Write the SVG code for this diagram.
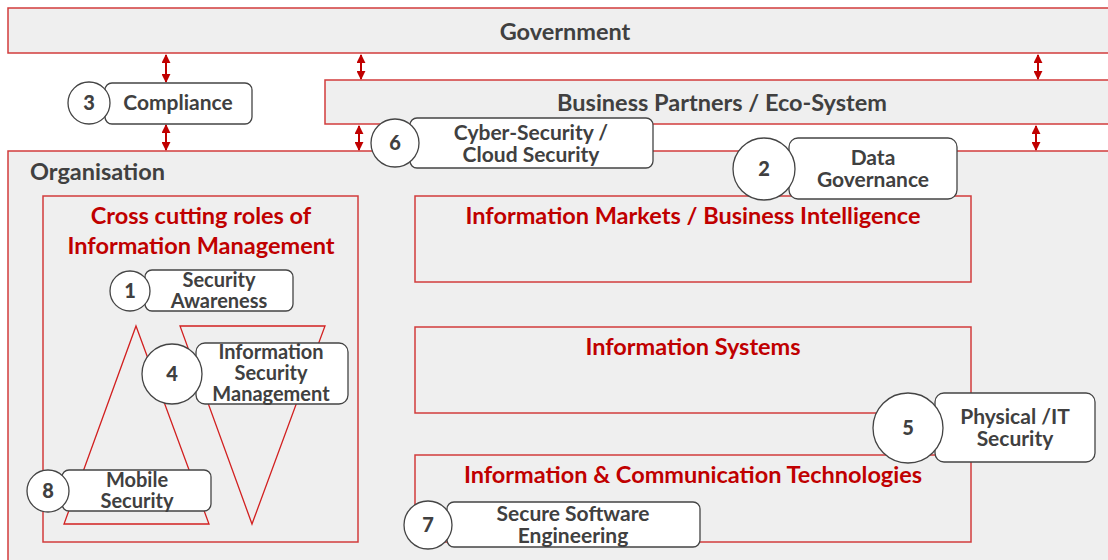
<svg xmlns="http://www.w3.org/2000/svg" width="1108" height="560" viewBox="0 0 1108 560">
  <defs>
    <marker id="ah" viewBox="0 0 10 10" refX="9" refY="5" markerWidth="4.5" markerHeight="4.5" orient="auto-start-reverse">
      <path d="M0,0 L10,5 L0,10 z" fill="#c00000"/>
    </marker>
    <style>
      .zone { fill: #efefef; stroke: #d23c3c; stroke-width: 1.5; }
      .inner { fill: none; stroke: #d23c3c; stroke-width: 1.5; }
      .tri { fill: none; stroke: #d22020; stroke-width: 1.3; }
      .pill { fill: #ffffff; stroke: #444444; stroke-width: 1.3; }
      .num { fill: #ffffff; stroke: #444444; stroke-width: 1.3; }
      .lbl { font-family: Lato, "Liberation Sans", sans-serif; font-weight: bold; fill: #404040; font-size: 21px; text-anchor: middle; }
      .sm { font-size: 20px; }
      .n { font-family: Lato, "Liberation Sans", sans-serif; font-weight: 900; fill: #404040; font-size: 20px; text-anchor: middle; }
      .big { font-family: Lato, "Liberation Sans", sans-serif; font-weight: bold; fill: #404040; font-size: 23.5px; text-anchor: middle; }
      .ttl { font-family: Lato, "Liberation Sans", sans-serif; font-weight: bold; fill: #c00000; font-size: 23.5px; text-anchor: middle; }
      .link { stroke: #c00000; stroke-width: 2; fill: none; marker-start: url(#ah); marker-end: url(#ah); }
    </style>
  </defs>

  <rect width="1108" height="560" fill="#ffffff"/>

  <!-- layers -->
  <g id="government">
    <rect class="zone" x="8" y="8" width="1110" height="45"/>
    <text class="big" x="565" y="40">Government</text>
  </g>
  <g id="business-partners">
    <rect class="zone" x="325" y="80" width="793" height="44"/>
    <text class="big" x="722" y="111">Business Partners / Eco-System</text>
  </g>
  <g id="organisation">
    <rect class="zone" x="8" y="151" width="1110" height="420"/>
    <text class="big" x="30" y="180" style="text-anchor:start">Organisation</text>
  </g>

  <g id="cross-cutting">
    <rect class="inner" x="43" y="196" width="315" height="346"/>
    <text class="ttl" x="201" y="224">Cross cutting roles of</text>
    <text class="ttl" x="201" y="254">Information Management</text>
    <polygon class="tri" points="136,326 209,524 64,524"/>
    <polygon class="tri" points="180,326 325,326 252,524"/>
  </g>
  <g id="information-markets">
    <rect class="inner" x="415" y="196" width="556" height="86"/>
    <text class="ttl" x="693" y="224">Information Markets / Business Intelligence</text>
  </g>
  <g id="information-systems">
    <rect class="inner" x="415" y="327" width="556" height="86"/>
    <text class="ttl" x="693" y="355">Information Systems</text>
  </g>
  <g id="ict">
    <rect class="inner" x="415" y="455" width="556" height="87"/>
    <text class="ttl" x="693" y="483">Information &amp; Communication Technologies</text>
  </g>

  <!-- connectors -->
  <g id="connectors">
    <line class="link" x1="166" y1="55" x2="166" y2="82"/>
    <line class="link" x1="166" y1="125" x2="166" y2="150"/>
    <line class="link" x1="361" y1="55" x2="361" y2="79"/>
    <line class="link" x1="359" y1="126" x2="359" y2="150"/>
    <line class="link" x1="1038" y1="55" x2="1038" y2="79"/>
    <line class="link" x1="1036" y1="126" x2="1036" y2="150"/>
  </g>

  <!-- numbered roles -->
  <g id="n3">
    <rect class="pill" x="105" y="83" width="147" height="41" rx="7"/>
    <circle class="num" cx="89" cy="103" r="21"/>
    <text class="n" x="89" y="110">3</text>
    <text class="lbl" x="178" y="110">Compliance</text>
  </g>
  <g id="n6">
    <rect class="pill" x="410" y="118" width="243" height="50" rx="7"/>
    <circle class="num" cx="395" cy="143" r="24"/>
    <text class="n" x="395" y="150">6</text>
    <text class="lbl" x="531" y="140">Cyber-Security /</text>
    <text class="lbl" x="531" y="162">Cloud Security</text>
  </g>
  <g id="n2">
    <rect class="pill" x="789" y="138" width="168" height="61" rx="9"/>
    <circle class="num" cx="764" cy="169" r="31"/>
    <text class="n" x="764" y="176">2</text>
    <text class="lbl" x="873" y="165">Data</text>
    <text class="lbl" x="873" y="187">Governance</text>
  </g>
  <g id="n1">
    <rect class="pill" x="145" y="270" width="148" height="41" rx="7"/>
    <circle class="num" cx="130" cy="291" r="20"/>
    <text class="n" x="130" y="298">1</text>
    <text class="lbl sm" x="219" y="287">Security</text>
    <text class="lbl sm" x="219" y="308">Awareness</text>
  </g>
  <g id="n4">
    <rect class="pill" x="196" y="343" width="152" height="61" rx="9"/>
    <circle class="num" cx="172" cy="374" r="30"/>
    <text class="n" x="172" y="381">4</text>
    <text class="lbl sm" x="271" y="359">Information</text>
    <text class="lbl sm" x="271" y="380">Security</text>
    <text class="lbl sm" x="271" y="401">Management</text>
  </g>
  <g id="n8">
    <rect class="pill" x="62" y="470" width="149" height="41" rx="7"/>
    <circle class="num" cx="48" cy="491" r="21"/>
    <text class="n" x="48" y="498">8</text>
    <text class="lbl sm" x="137" y="487">Mobile</text>
    <text class="lbl sm" x="137" y="508">Security</text>
  </g>
  <g id="n5">
    <rect class="pill" x="935" y="393" width="160" height="69" rx="9"/>
    <circle class="num" cx="908" cy="428" r="35"/>
    <text class="n" x="908" y="435">5</text>
    <text class="lbl" x="1015" y="424">Physical /IT</text>
    <text class="lbl" x="1015" y="446">Security</text>
  </g>
  <g id="n7">
    <rect class="pill" x="447" y="502" width="253" height="45" rx="7"/>
    <circle class="num" cx="428" cy="525" r="24"/>
    <text class="n" x="428" y="532">7</text>
    <text class="lbl" x="573" y="521">Secure Software</text>
    <text class="lbl" x="573" y="543">Engineering</text>
  </g>
</svg>
